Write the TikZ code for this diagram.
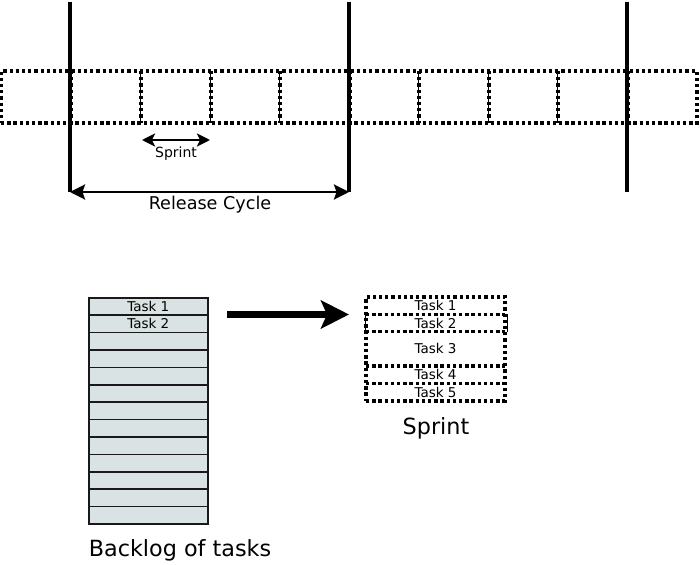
\documentclass[tikz,border=0pt]{standalone}
\usepackage{fontspec}
\setmainfont{DejaVu Sans}
\usetikzlibrary{arrows.meta}
\definecolor{backfill}{RGB}{218,227,227}
\tikzset{
  dotline/.style={line width=3.2pt, dash pattern=on 3.3pt off 2.9pt},
  dotbox/.style={draw, dotline, inner sep=0pt, outer sep=0pt},
  thinline/.style={line width=0.8pt},
  blrow/.style={draw=black!90, line width=1.6pt, fill=backfill, minimum width=119pt, minimum height=17.4pt, inner sep=0pt, anchor=north west, font=\fontsize{13.5}{13.5}\selectfont},
  sprow/.style={inner sep=0pt, outer sep=0pt, minimum width=139pt, anchor=north west, font=\fontsize{13.5}{13.5}\selectfont},
  bar/.style={line width=3.2pt},
  lbl/.style={inner sep=0pt},
}
\begin{document}
\begin{tikzpicture}[x=1pt,y=-1pt]
\useasboundingbox[fill=white] (0,0) rectangle (700,564);
% timeline strip
\node[dotbox, minimum width=696pt, minimum height=52pt, anchor=north west] (strip) at (1,71) {};
\foreach \i/\x in {1/70,2/140,3/210,4/279,5/349,6/418,7/488,8/557,9/627}{
  \coordinate (d\i t) at (\x,71);
  \coordinate (d\i b) at (\x,123);
  \draw[thinline] (d\i t) -- (d\i b);
  \draw[dotline] ([xshift=1pt]d\i t) -- ([xshift=1pt]d\i b);
}
% release bars
\coordinate (v1t) at (70,2);   \coordinate (v1b) at (70,192);
\coordinate (v2t) at (349,2);  \coordinate (v2b) at (349,192);
\coordinate (v3t) at (627,2);  \coordinate (v3b) at (627,192);
\draw[bar] (v1t) -- (v1b);
\draw[bar] (v2t) -- (v2b);
\draw[bar] (v3t) -- (v3b);
\draw[line width=2.6pt, {Stealth[length=15pt,width=15pt,inset=2.5pt]}-{Stealth[length=15pt,width=15pt,inset=2.5pt]}] (v1b) -- (v2b);
\node[lbl, font=\fontsize{17.6}{17.6}\selectfont] (rc) at (210,205) {Release Cycle};
% sprint arrow
\coordinate (s1) at (142,140);
\coordinate (s2) at (210,140);
\draw[line width=2.5pt, {Stealth[length=13pt,width=13pt,inset=3pt]}-{Stealth[length=13pt,width=13pt,inset=3pt]}] (s1) -- (s2);
\node[lbl, font=\fontsize{14}{14}\selectfont] (sl) at (176,154) {Sprint};
% backlog
\foreach \i in {1,...,13}{
  \node[blrow] (b\i) at (88,{297+(\i-1)*17.4}) {};
}
\node[font=\fontsize{13.5}{13.5}\selectfont, inner sep=0pt] at (b1.center) {Task 1};
\node[font=\fontsize{13.5}{13.5}\selectfont, inner sep=0pt] at (b2.center) {Task 2};
\node[lbl, font=\fontsize{22.3}{22.3}\selectfont] (bl) at (180,550) {Backlog of tasks};
% big arrow
\coordinate (a1) at (227,314.5);
\coordinate (a2) at (349,314.5);
\draw[line width=7.7pt, -{Stealth[length=28pt,width=28pt,inset=6pt]}] (a1) -- (a2);
% sprint box
\node[dotbox, minimum width=139pt, minimum height=104pt, anchor=north west] (sbox) at (366,297) {};
\node[sprow, minimum height=17.3pt] (t1) at (366,297) {Task 1};
\node[sprow, minimum height=17.4pt] (t2) at (366,314.3) {Task 2};
\node[sprow, minimum height=34.3pt] (t3) at (366,331.7) {Task 3};
\node[sprow, minimum height=17.3pt] (t4) at (366,366) {Task 4};
\node[sprow, minimum height=17.7pt] (t5) at (366,383.3) {Task 5};
\foreach \r in {t1,t2,t3,t4}{
  \draw[dotline] (\r.south west) -- (\r.south east);
}
\draw[thinline] ([xshift=-1pt]t2.north west) -- ([xshift=-1pt]t2.south west);
\draw[thinline] ([xshift=2pt]t2.north east) -- ([xshift=2pt]t2.south east);
\node[lbl, font=\fontsize{22.3}{22.3}\selectfont] (spl) at (436,428) {Sprint};
\end{tikzpicture}
\end{document}
